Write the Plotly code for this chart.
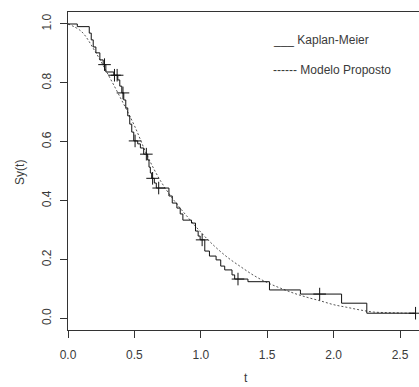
import numpy as np
import plotly.graph_objects as go

# Kaplan-Meier step function (time of step, survival after step)
km_time = [0, 0.07, 0.16, 0.175, 0.19, 0.21, 0.24, 0.265, 0.285, 0.345,
           0.375, 0.39, 0.405, 0.42, 0.435, 0.45, 0.465, 0.48, 0.495, 0.525,
           0.545, 0.57, 0.60, 0.61, 0.62, 0.63, 0.65, 0.665, 0.76, 0.785,
           0.82, 0.845, 0.865, 0.93, 0.96, 0.98, 0.995, 1.03, 1.065, 1.115,
           1.15, 1.18, 1.235, 1.255, 1.355, 1.517, 1.75, 2.06, 2.25, 2.617]
km_surv = [1.0, 0.991, 0.969, 0.946, 0.922, 0.902, 0.878, 0.862, 0.837, 0.826,
           0.81, 0.789, 0.766, 0.742, 0.715, 0.688, 0.66, 0.633, 0.603, 0.593,
           0.579, 0.558, 0.538, 0.514, 0.494, 0.476, 0.46, 0.443, 0.416, 0.392,
           0.375, 0.355, 0.334, 0.324, 0.297, 0.28, 0.267, 0.229, 0.212, 0.199,
           0.178, 0.165, 0.148, 0.134, 0.125, 0.097, 0.083, 0.052, 0.018, 0.018]

# Censored times
cens_time = [0.275, 0.35, 0.37, 0.414, 0.505, 0.59, 0.637, 0.683, 1.01, 1.28, 1.895, 2.617]

# Proposed model curve
model_t = [0, 0.1, 0.2, 0.3, 0.4, 0.5, 0.6, 0.7, 0.8, 0.9, 1.0, 1.1, 1.2, 1.3,
           1.4, 1.5, 1.6, 1.7, 1.8, 1.9, 2.0, 2.1, 2.2, 2.3, 2.4, 2.5, 2.62]
model_s = [1.0, 0.975, 0.91, 0.83, 0.745, 0.655, 0.55, 0.465, 0.40, 0.345,
           0.293, 0.247, 0.208, 0.176, 0.146, 0.122, 0.103, 0.086, 0.072, 0.060,
           0.047, 0.038, 0.029, 0.022, 0.020, 0.019, 0.017]

x_ticks = [0.0, 0.5, 1.0, 1.5, 2.0, 2.5]
y_ticks = [0.0, 0.2, 0.4, 0.6, 0.8, 1.0]

idx = np.searchsorted(np.array(km_time), np.array(cens_time), side="right") - 1
cens_surv = [km_surv[i] for i in idx]

FONT = "Liberation Sans, Arial, sans-serif"
TXT = "#3a3a3a"
LINE = "#333333"

fig = go.Figure()
fig.add_trace(go.Scatter(x=model_t, y=model_s, mode="lines", line_shape="spline",
                         line=dict(color="#555555", width=1, dash="2px,2px"),
                         showlegend=False, hoverinfo="skip"))
fig.add_trace(go.Scatter(x=km_time, y=km_surv, mode="lines", line_shape="hv",
                         line=dict(color="#111111", width=1),
                         showlegend=False))
fig.add_trace(go.Scatter(x=cens_time, y=cens_surv, mode="markers",
                         marker=dict(symbol="cross-thin", size=9,
                                     line=dict(color="#111111", width=1)),
                         showlegend=False))

fig.update_layout(
    width=419, height=387,
    margin=dict(l=68, r=0, t=12, b=57),
    plot_bgcolor="white", paper_bgcolor="white",
    font=dict(family=FONT, size=12, color=TXT),
    xaxis=dict(range=[0, 2.643], tickvals=x_ticks,
               ticktext=[f"{v:.1f}" for v in x_ticks],
               ticks="outside", ticklen=7, tickcolor=LINE, tickwidth=1,
               showline=True, linecolor=LINE, linewidth=1, mirror=True,
               showgrid=False, zeroline=False, ticklabelstandoff=7,
               tickfont=dict(family=FONT, size=12, color=TXT)),
    yaxis=dict(range=[-0.039, 1.0407], tickvals=y_ticks,
               ticktext=[f"{v:.1f}" for v in y_ticks],
               ticks="outside", ticklen=7, tickcolor=LINE, tickwidth=1,
               showline=True, linecolor=LINE, linewidth=1,
               showgrid=False, zeroline=False, tickangle=-90,
               ticklabelstandoff=4,
               tickfont=dict(family=FONT, size=12, color=TXT)),
    annotations=[
        dict(text="t", xref="paper", yref="paper", x=0.507, y=-0.152,
             showarrow=False, font=dict(family=FONT, size=12, color=TXT),
             xanchor="center", yanchor="middle"),
        dict(text="Sy(t)", xref="paper", yref="paper", x=-0.1368, y=0.497,
             showarrow=False, textangle=-90,
             font=dict(family=FONT, size=12, color=TXT),
             xanchor="center", yanchor="middle"),
        dict(text="___ Kaplan-Meier", xref="paper", yref="paper", x=0.578, y=0.912,
             showarrow=False, font=dict(family=FONT, size=12, color=TXT),
             xanchor="left", yanchor="middle"),
        dict(text="------ Modelo Proposto", xref="paper", yref="paper", x=0.578, y=0.818,
             showarrow=False, font=dict(family=FONT, size=12, color=TXT),
             xanchor="left", yanchor="middle"),
    ],
)

fig.write_html("out.html")
